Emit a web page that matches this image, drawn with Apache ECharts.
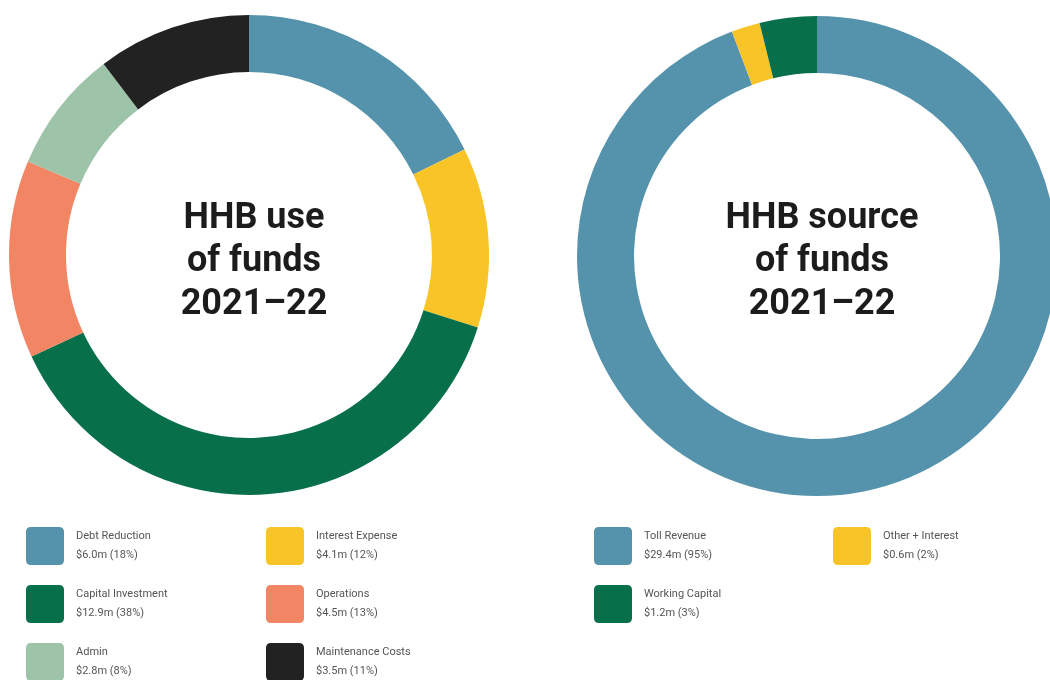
<!DOCTYPE html>
<html>
<head>
<meta charset="utf-8">
<script src="https://cdn.jsdelivr.net/npm/echarts@6/dist/echarts.min.js"></script>
<style>
html,body{margin:0;padding:0;background:#fff;}
#chart{width:1050px;height:680px;}
</style>
</head>
<body>
<div id="chart"></div>
<script>
// ---- Data ----
const useNames = ['Debt Reduction', 'Interest Expense', 'Capital Investment', 'Operations', 'Admin', 'Maintenance Costs'];
const useValues = [6.0, 4.1, 12.9, 4.5, 2.8, 3.5];
const usePercents = [18, 12, 38, 13, 8, 11];
const useColors = ['#5593ac', '#f8c427', '#07704a', '#f28563', '#9dc4a9', '#222222'];

const srcNames = ['Toll Revenue', 'Other + Interest', 'Working Capital'];
const srcValues = [29.4, 0.6, 1.2];
const srcPercents = [95, 2, 3];
const srcColors = ['#5593ac', '#f8c427', '#07704a'];

const useTitle = 'HHB use\nof funds\n2021\u201322';
const srcTitle = 'HHB source\nof funds\n2021\u201322';

// ---- Helpers ----
const labelMap = {};
useNames.forEach((n, i) => { labelMap[n] = '$' + useValues[i].toFixed(1) + 'm (' + usePercents[i] + '%)'; });
srcNames.forEach((n, i) => { labelMap[n] = '$' + srcValues[i].toFixed(1) + 'm (' + srcPercents[i] + '%)'; });

const iconPath = 'path://M5,0 H33 Q38,0 38,5 V33 Q38,38 33,38 H5 Q0,38 0,33 V5 Q0,0 5,0 Z';
const legendFont = 'Roboto, "Noto Sans", sans-serif';

function makeLegend(names, left, top) {
  return {
    data: names,
    orient: 'vertical',
    left: left,
    top: top,
    width: 220,
    height: 220,
    itemWidth: 38,
    itemHeight: 38,
    itemGap: 20,
    icon: iconPath,
    selectedMode: false,
    padding: 0,
    formatter: function (name) { return name + '\n' + labelMap[name]; },
    textStyle: {
      color: '#555',
      fontSize: 11,
      lineHeight: 19,
      fontFamily: legendFont,
      padding: [0, 0, 0, 7]
    }
  };
}

function makePie(names, values, colors, center) {
  return {
    type: 'pie',
    radius: [183, 240],
    center: center,
    startAngle: 90,
    clockwise: true,
    label: { show: false },
    labelLine: { show: false },
    emphasis: { disabled: true },
    silent: true,
    itemStyle: { borderWidth: 0 },
    data: names.map((n, i) => ({ name: n, value: values[i], itemStyle: { color: colors[i] } }))
  };
}

const chart = echarts.init(document.getElementById('chart'));
chart.setOption({
  animation: false,
  backgroundColor: '#ffffff',
  title: [
    {
      text: useTitle, left: 249, top: 192, textAlign: 'center',
      textStyle: { fontSize: 36, fontWeight: 'bold', color: '#1c1c1c', lineHeight: 43, fontFamily: 'Roboto, sans-serif' }
    },
    {
      text: srcTitle, left: 817, top: 192, textAlign: 'center',
      textStyle: { fontSize: 36, fontWeight: 'bold', color: '#1c1c1c', lineHeight: 43, fontFamily: 'Roboto, sans-serif' }
    }
  ],
  legend: [
    makeLegend([useNames[0], useNames[2], useNames[4]], 26, 527),
    makeLegend([useNames[1], useNames[3], useNames[5]], 266, 527),
    makeLegend([srcNames[0], srcNames[2]], 594, 527),
    makeLegend([srcNames[1]], 833, 527)
  ],
  series: [
    makePie(useNames, useValues, useColors, [249, 255]),
    makePie(srcNames, srcValues, srcColors, [817, 256])
  ]
});
</script>
</body>
</html>
